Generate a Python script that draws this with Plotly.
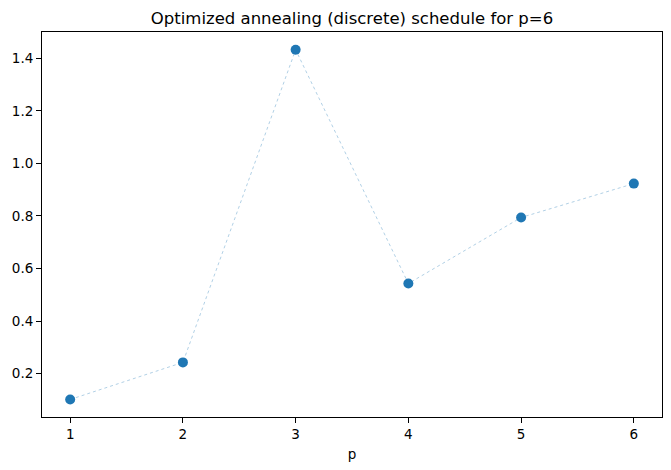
import plotly.graph_objects as go

p_values = [1, 2, 3, 4, 5, 6]
schedule = [0.102, 0.243, 1.432, 0.543, 0.794, 0.923]
x_ticks = [1, 2, 3, 4, 5, 6]
y_ticks = [0.2, 0.4, 0.6, 0.8, 1.0, 1.2, 1.4]

fig = go.Figure()
fig.add_trace(go.Scatter(
    x=p_values, y=schedule, mode="lines+markers",
    line=dict(color="rgba(31,119,180,0.7)", width=0.5, dash="dot"),
    marker=dict(color="#1f77b4", size=10),
    showlegend=False,
))

axis_common = dict(
    showgrid=False, zeroline=False, showline=True, linecolor="black", linewidth=1,
    mirror=True, ticks="outside", ticklen=5, tickcolor="black", tickwidth=1,
    tickfont=dict(family="DejaVu Sans", size=13.5, color="black"),
)
fig.update_xaxes(range=[0.75, 6.25], tickvals=x_ticks, ticktext=[str(v) for v in x_ticks],
                 title=dict(text="p", font=dict(family="DejaVu Sans", size=13.5, color="black"), standoff=8),
                 **axis_common)
fig.update_yaxes(range=[0.0354, 1.4996], tickvals=y_ticks, ticktext=[f"{v:.1f}" for v in y_ticks],
                 **axis_common)
fig.update_layout(
    width=671, height=470,
    margin=dict(l=42, r=9, t=32, b=53),
    plot_bgcolor="white", paper_bgcolor="white",
    title=dict(text="Optimized annealing (discrete) schedule for p=6", x=0.5, xanchor="center",
               xref="paper", y=1 - 18 / 470, yanchor="middle",
               font=dict(family="DejaVu Sans", size=16.5, color="black")),
)
fig.write_html("out.html")
